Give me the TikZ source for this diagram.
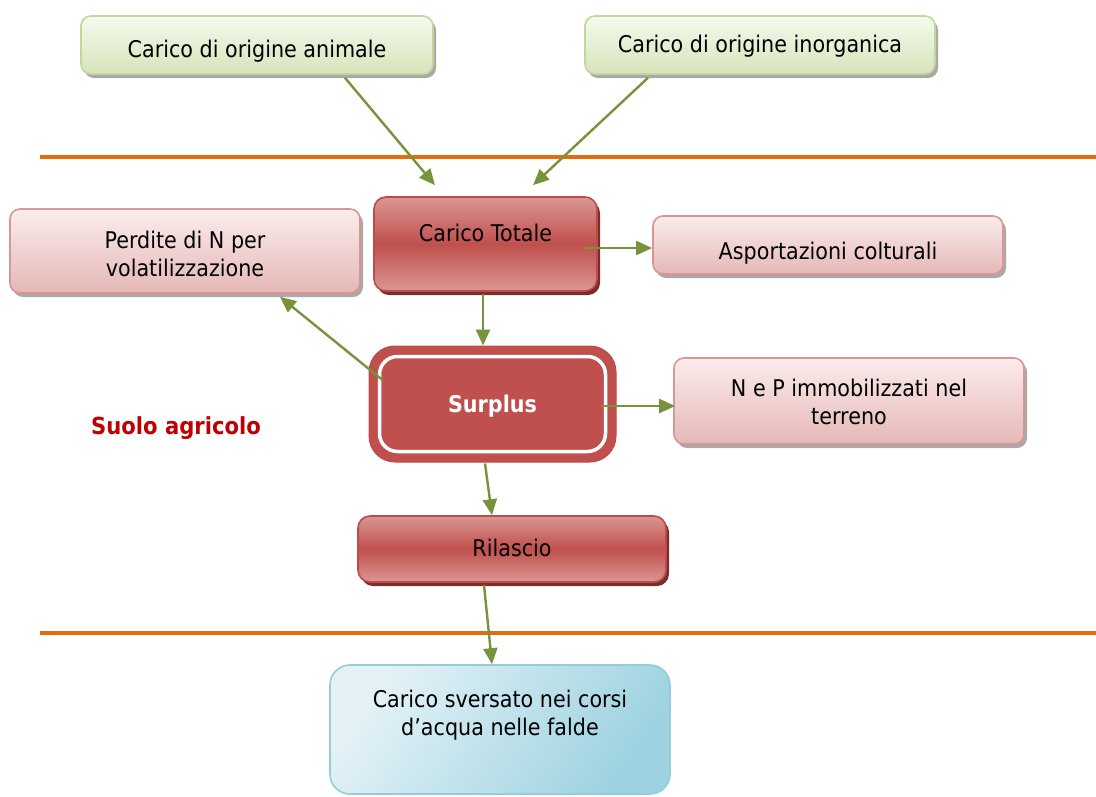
\documentclass[tikz,border=0pt]{standalone}
\usepackage{fontspec}
\setmainfont{DejaVu Sans}[FakeStretch=0.9]
\usetikzlibrary{shadows,arrows.meta,calc}
\definecolor{grnTop}{HTML}{F5FAEE}
\definecolor{grnBot}{HTML}{D6E4BA}
\definecolor{grnLine}{HTML}{C3D69B}
\definecolor{pnkTop}{HTML}{FBECEC}
\definecolor{pnkBot}{HTML}{E5B8B7}
\definecolor{pnkLine}{HTML}{D99694}
\definecolor{redLight}{HTML}{DA9694}
\definecolor{redMid}{HTML}{C0504D}
\definecolor{redLine}{HTML}{BE4B48}
\definecolor{redShadow}{HTML}{7A2E2C}
\definecolor{bluLight}{HTML}{E4F2F7}
\definecolor{bluDark}{HTML}{9DD2E0}
\definecolor{bluLine}{HTML}{93CDDD}
\definecolor{shd}{HTML}{A9A9A9}
\definecolor{arrGreen}{HTML}{77933C}
\definecolor{sepOrange}{HTML}{E46C0A}
\definecolor{soilRed}{HTML}{C00000}
\newcommand\placetext[2]{\raisebox{#1pt}[0pt][0pt]{\begin{tabular}[b]{@{}c@{}}#2\end{tabular}}}
\begin{document}
\begin{tikzpicture}[x=1pt,y=-1pt,
  every node/.style={inner sep=0pt, font=\fontsize{23}{28}\selectfont},
  boxbase/.style={rounded corners=10pt, line width=1.6pt},
  greenbox/.style={boxbase, draw=grnLine, top color=grnTop, bottom color=grnBot,
    general shadow={fill=shd, shadow xshift=3pt, shadow yshift=-4pt}},
  pinkbox/.style={boxbase, draw=pnkLine, top color=pnkTop, bottom color=pnkBot,
    general shadow={fill=shd, shadow xshift=3pt, shadow yshift=-4pt}},
  redbox/.style={boxbase, rounded corners=12pt, draw=redLine, top color=redLight, bottom color=redLight, middle color=redMid,
    general shadow={fill=redShadow, shadow xshift=3pt, shadow yshift=-4pt}},
  bluebox/.style={rounded corners=20pt, line width=1.6pt, draw=bluLine,
    left color=bluLight, right color=bluDark, shading angle=55},
  arr/.style={draw=arrGreen, line width=2.4pt, -{Triangle[length=16pt,width=14pt]}},
  sepline/.style={draw=sepOrange, line width=4pt}
]
\useasboundingbox (0,0) rectangle (1096,796);

% separator lines
\draw[sepline] (40,157) -- (1096,157);
\draw[sepline] (40,633) -- (1096,633);

% boxes
\node[greenbox, minimum width=352pt, minimum height=58pt] (ani) at (257,45)
  {\placetext{-12}{Carico di origine animale}};
\node[greenbox, minimum width=350pt, minimum height=58pt] (ino) at (760,45)
  {\placetext{-7}{Carico di origine inorganica}};
\node[redbox, minimum width=223pt, minimum height=94pt] (tot) at (485.5,244)
  {\placetext{3}{Carico Totale}};
\node[pinkbox, minimum width=350pt, minimum height=84pt] (perd) at (185,251)
  {\placetext{-25}{Perdite di N per\\volatilizzazione}};
\node[pinkbox, minimum width=350pt, minimum height=58pt] (asp) at (828,245)
  {\placetext{-14}{Asportazioni colturali}};
\node[rounded corners=26pt, fill=redMid, draw=redLine, line width=1pt,
      minimum width=247pt, minimum height=116pt] (surp) at (492.5,404) {};
\draw[white, line width=3.5pt, rounded corners=18pt]
  ($(surp.north west)+(11,11)$) rectangle ($(surp.south east)+(-11,-11)$);
\node[text=white, font=\fontsize{23}{28}\selectfont\bfseries] at (surp.center) {\placetext{-8}{Surplus}};
\node[pinkbox, minimum width=350pt, minimum height=86pt] (nep) at (849,401)
  {\placetext{-23}{N e P immobilizzati nel\\terreno}};
\node[redbox, minimum width=308pt, minimum height=66pt] (ril) at (512,549)
  {\placetext{-7}{Rilascio}};
\node[bluebox, minimum width=340pt, minimum height=129pt] (sv) at (500,729.5)
  {\placetext{-5.5}{Carico sversato nei corsi\\d’acqua nelle falde}};

\node[text=soilRed, font=\fontsize{23.5}{28}\selectfont\bfseries] (suolo) at (176,428) {Suolo agricolo};

% connectors
\draw[arr] ($(ani.south)+(88,3)$) -- ($(tot.north)+(-50.5,-11)$);
\draw[arr] ($(ino.south)+(-112,3)$) -- ($(tot.north)+(47.5,-11)$);
\draw[arr] ($(tot.east)+(-14,4)$) -- ($(asp.west)+(0,3)$);
\draw[arr] ($(tot.south)+(-2.5,2)$) -- ($(surp.north)+(-9.5,0)$);
\draw[arr] ($(surp.west)+(14,-24)$) -- ($(perd.south)+(95,3)$);
\draw[arr] ($(surp.east)+(-16,2)$) -- ($(nep.west)+(2,5)$);
\draw[arr] ($(surp.south)+(-7.5,1)$) -- ($(ril.north)+(-20,0)$);
\draw[arr] ($(ril.south)+(-28,2)$) -- ($(sv.north)+(-8,0)$);
\end{tikzpicture}
\end{document}
